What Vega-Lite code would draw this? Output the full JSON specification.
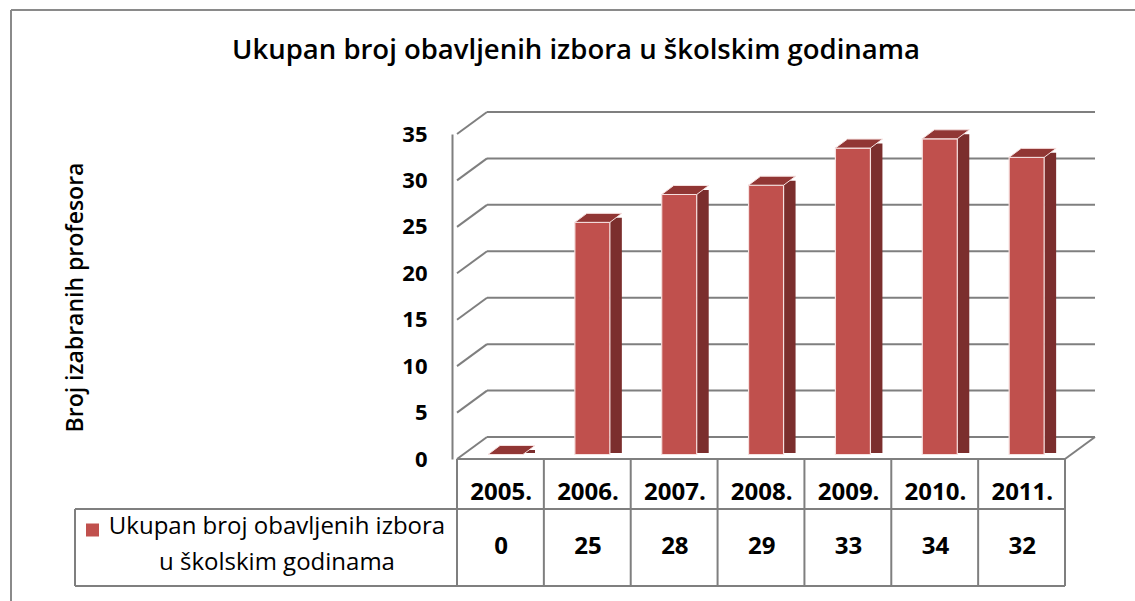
{
  "$schema": "https://vega.github.io/schema/vega-lite/v6.json",
  "width": 618,
  "height": 325,
  "autosize": {"type": "none"},
  "padding": {"left": 452, "top": 134, "right": 65, "bottom": 142},
  "background": "white",
  "config": {"view": {"stroke": null}, "font": "Open Sans"},
  "title": {
    "text": "Ukupan broj obavljenih izbora u školskim godinama",
    "fontSize": 27.5,
    "fontWeight": 600,
    "color": "#000000",
    "anchor": "middle",
    "frame": "group",
    "baseline": "alphabetic",
    "dx": -185,
    "offset": -77
  },
  "datasets": {
    "years": [
      {"year": 2005, "label": "2005.", "value": 0},
      {"year": 2006, "label": "2006.", "value": 25},
      {"year": 2007, "label": "2007.", "value": 28},
      {"year": 2008, "label": "2008.", "value": 29},
      {"year": 2009, "label": "2009.", "value": 33},
      {"year": 2010, "label": "2010.", "value": 34},
      {"year": 2011, "label": "2011.", "value": 32}
    ],
    "grid": [{"v": 0}, {"v": 5}, {"v": 10}, {"v": 15}, {"v": 20}, {"v": 25}, {"v": 30}, {"v": 35}],
    "one": [{"k": 1}]
  },
  "layer": [
    {
      "data": {"name": "grid"},
      "mark": {"type": "rule", "color": "#7f7f7f", "strokeWidth": 2, "xOffset": 30, "x2Offset": 30, "yOffset": -22},
      "encoding": {
        "x": {"datum": 2005, "type": "quantitative", "scale": {"domain": [2005, 2012], "nice": false, "zero": false}, "axis": null},
        "x2": {"datum": 2012},
        "y": {
          "field": "v", "type": "quantitative",
          "scale": {"domain": [0, 35], "nice": false, "zero": true},
          "axis": {
            "values": [0, 5, 10, 15, 20, 25, 30, 35],
            "title": "Broj izabranih profesora",
            "titleFont": "Open Sans", "titleFontSize": 23, "titleFontWeight": 600, "titleColor": "#000000",
            "titleX": -377, "titleY": 163, "titleAngle": -90, "titleAlign": "center", "titleBaseline": "middle",
            "labelFont": "Open Sans", "labelFontSize": 22, "labelFontWeight": "bold", "labelColor": "#000000",
            "labelPadding": 25, "ticks": false, "grid": false,
            "domain": true, "domainColor": "#7f7f7f", "domainWidth": 2
          }
        }
      }
    },
    {
      "data": {"name": "grid"},
      "mark": {"type": "rule", "color": "#7f7f7f", "strokeWidth": 2, "x2Offset": 30, "y2Offset": -22},
      "encoding": {
        "x": {"datum": 2005, "type": "quantitative"},
        "x2": {"datum": 2005},
        "y": {"field": "v", "type": "quantitative"},
        "y2": {"field": "v"}
      }
    },
    {
      "data": {"name": "one"},
      "mark": {"type": "rule", "color": "#7f7f7f", "strokeWidth": 2, "x2Offset": 30, "y2Offset": -22},
      "encoding": {
        "x": {"datum": 2012, "type": "quantitative"},
        "x2": {"datum": 2012},
        "y": {"datum": 0, "type": "quantitative"},
        "y2": {"datum": 0}
      }
    },
    {
      "data": {"name": "years"},
      "mark": {"type": "bar", "width": 12, "color": "#7b2e2d", "xOffset": 72, "yOffset": -9, "y2Offset": -6},
      "encoding": {
        "x": {"field": "year", "type": "quantitative"},
        "y": {"field": "value", "type": "quantitative"},
        "y2": {"datum": 0}
      }
    },
    {
      "data": {"name": "years"},
      "mark": {"type": "bar", "width": 35, "color": "#c0504d", "stroke": "#f6e0df", "strokeWidth": 1.2, "xOffset": 48.5, "yOffset": -4.5, "y2Offset": -4.5},
      "encoding": {
        "x": {"field": "year", "type": "quantitative"},
        "y": {"field": "value", "type": "quantitative"},
        "y2": {"datum": 0}
      }
    },
    {
      "data": {"name": "years"},
      "mark": {"type": "point", "filled": true, "opacity": 1, "size": 2209, "shape": "M-1,0.191L0.489,0.191L1,-0.191L-0.489,-0.191Z", "color": "#913634", "stroke": "#f6e0df", "strokeWidth": 1, "xOffset": 54.5, "yOffset": -9},
      "encoding": {
        "x": {"field": "year", "type": "quantitative"},
        "y": {"field": "value", "type": "quantitative"}
      }
    },
    {
      "data": {"name": "years"},
      "mark": {"type": "rule", "color": "#7f7f7f", "strokeWidth": 2, "y2Offset": 127},
      "encoding": {
        "x": {"field": "year", "type": "quantitative"},
        "y": {"datum": 0, "type": "quantitative"},
        "y2": {"datum": 0}
      }
    },
    {
      "data": {"name": "one"},
      "mark": {"type": "rule", "color": "#7f7f7f", "strokeWidth": 2, "y2Offset": 127},
      "encoding": {
        "x": {"datum": 2012, "type": "quantitative"},
        "y": {"datum": 0, "type": "quantitative"},
        "y2": {"datum": 0}
      }
    },
    {
      "data": {"name": "one"},
      "mark": {"type": "rule", "color": "#7f7f7f", "strokeWidth": 2},
      "encoding": {
        "x": {"datum": 2005, "type": "quantitative"},
        "x2": {"datum": 2012},
        "y": {"datum": 0, "type": "quantitative"}
      }
    },
    {
      "data": {"name": "one"},
      "mark": {"type": "rule", "color": "#7f7f7f", "strokeWidth": 2, "xOffset": -382, "yOffset": 50},
      "encoding": {
        "x": {"datum": 2005, "type": "quantitative"},
        "x2": {"datum": 2012},
        "y": {"datum": 0, "type": "quantitative"}
      }
    },
    {
      "data": {"name": "one"},
      "mark": {"type": "rule", "color": "#7f7f7f", "strokeWidth": 2, "xOffset": -382, "yOffset": 127},
      "encoding": {
        "x": {"datum": 2005, "type": "quantitative"},
        "x2": {"datum": 2012},
        "y": {"datum": 0, "type": "quantitative"}
      }
    },
    {
      "data": {"name": "one"},
      "mark": {"type": "rule", "color": "#7f7f7f", "strokeWidth": 2, "xOffset": -382, "yOffset": 50, "y2Offset": 127},
      "encoding": {
        "x": {"datum": 2005, "type": "quantitative"},
        "y": {"datum": 0, "type": "quantitative"},
        "y2": {"datum": 0}
      }
    },
    {
      "data": {"name": "years"},
      "mark": {"type": "text", "font": "Open Sans", "fontSize": 24, "fontWeight": "bold", "color": "#000000", "align": "center", "baseline": "middle", "xOffset": 44.14, "yOffset": 34},
      "encoding": {
        "x": {"field": "year", "type": "quantitative"},
        "y": {"datum": 0, "type": "quantitative"},
        "text": {"field": "label"}
      }
    },
    {
      "data": {"name": "years"},
      "mark": {"type": "text", "font": "Open Sans", "fontSize": 24, "fontWeight": "bold", "color": "#000000", "align": "center", "baseline": "middle", "xOffset": 44.14, "yOffset": 88},
      "encoding": {
        "x": {"field": "year", "type": "quantitative"},
        "y": {"datum": 0, "type": "quantitative"},
        "text": {"field": "value", "type": "quantitative"}
      }
    },
    {
      "data": {"name": "one"},
      "mark": {"type": "point", "shape": "square", "filled": true, "opacity": 1, "size": 169, "color": "#c0504d", "xOffset": -364.5, "yOffset": 71},
      "encoding": {
        "x": {"datum": 2005, "type": "quantitative"},
        "y": {"datum": 0, "type": "quantitative"}
      }
    },
    {
      "data": {"name": "one"},
      "mark": {"type": "text", "font": "Open Sans", "fontSize": 24, "fontWeight": 500, "color": "#000000", "align": "center", "baseline": "middle", "lineHeight": 36, "xOffset": -180, "yOffset": 68},
      "encoding": {
        "x": {"datum": 2005, "type": "quantitative"},
        "y": {"datum": 0, "type": "quantitative"},
        "text": {"value": ["Ukupan broj obavljenih izbora", "u školskim godinama"]}
      }
    },
    {
      "data": {"name": "one"},
      "mark": {"type": "rule", "color": "#8a8a8a", "strokeWidth": 2, "xOffset": -446, "x2Offset": 70, "yOffset": -124},
      "encoding": {
        "x": {"datum": 2005, "type": "quantitative"},
        "x2": {"datum": 2012},
        "y": {"datum": 35, "type": "quantitative"}
      }
    },
    {
      "data": {"name": "one"},
      "mark": {"type": "rule", "color": "#8a8a8a", "strokeWidth": 2, "xOffset": -446, "yOffset": -124, "y2Offset": 145},
      "encoding": {
        "x": {"datum": 2005, "type": "quantitative"},
        "y": {"datum": 35, "type": "quantitative"},
        "y2": {"datum": 0}
      }
    }
  ]
}
